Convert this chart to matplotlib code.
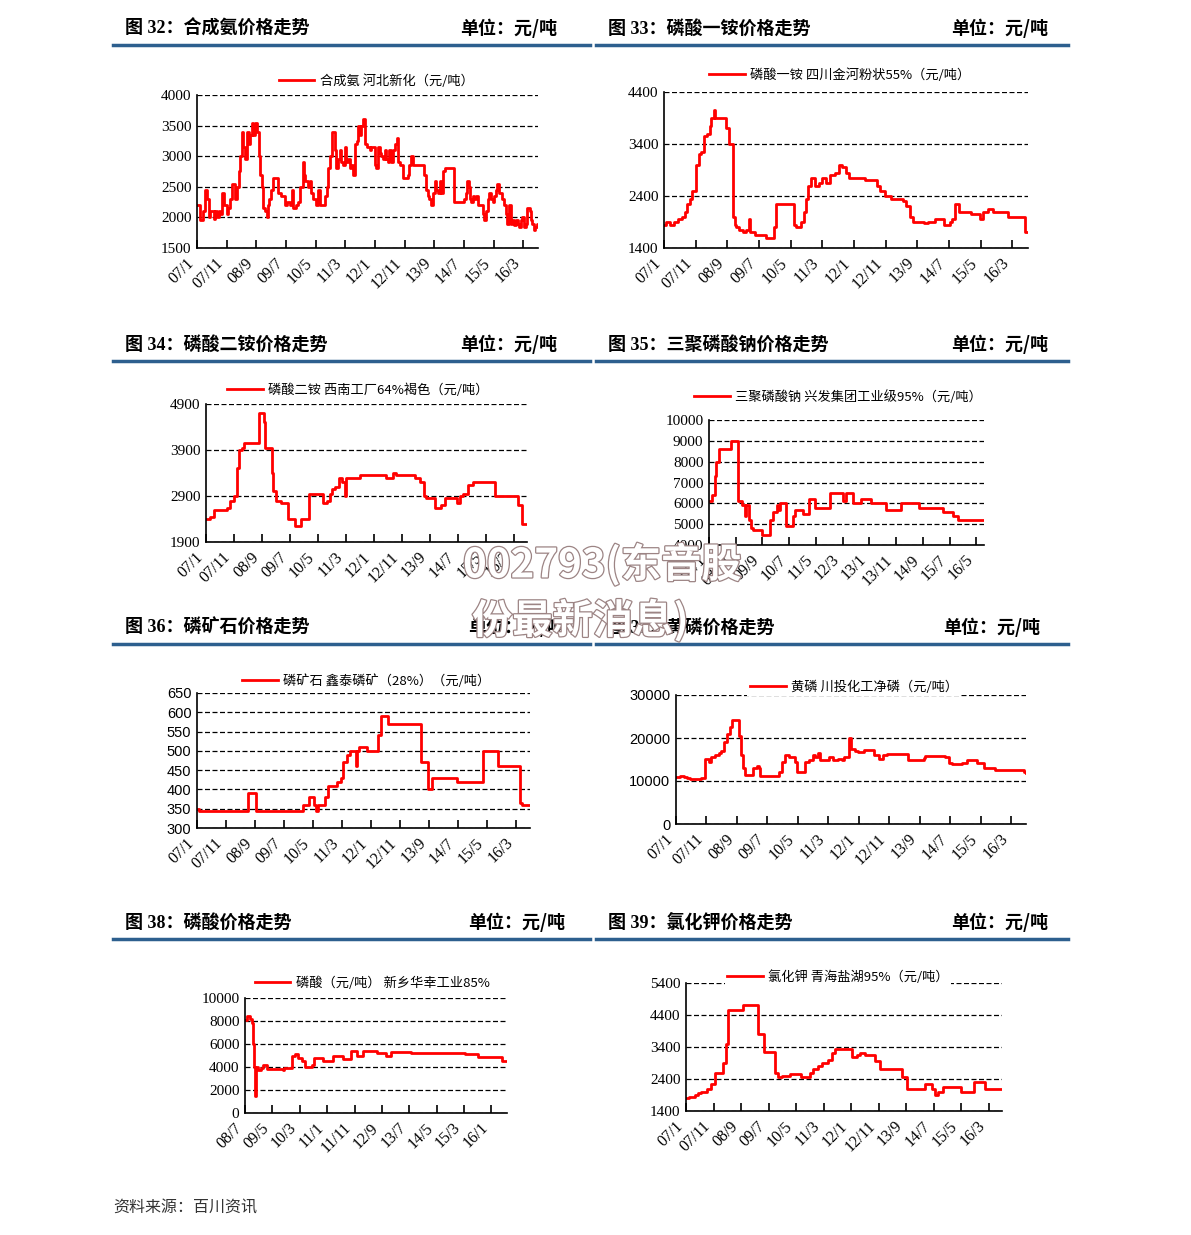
import matplotlib
matplotlib.use("Agg")
import matplotlib.pyplot as plt
import matplotlib.patheffects as pe
from matplotlib.lines import Line2D

plt.rcParams['font.family'] = ['Liberation Serif', 'Noto Sans CJK SC']
CJK = ['Noto Sans CJK SC', 'DejaVu Sans']

W, H = 1191, 1235
RED = '#FF0000'
BLUE = '#2D5F8E'

# ---- data: months since first tick, price in yuan/ton ----
# fig 32 ammonia, Hebei Xinhua (x from 2007/1)
nh3_month = [0, 1.1, 2.0, 2.8, 3.5, 3.9, 4.5, 5.6, 6.2, 6.7, 7.3, 7.8, 8.4, 9.2, 10.1, 10.6, 11.2, 11.8,
             12.9, 13.4, 14.0, 14.6, 15.1, 15.6, 16.2, 16.8, 17.4, 18.0, 18.5, 19.0, 19.6, 20.2, 20.9,
             21.3, 21.8, 22.4, 23.0, 23.5, 24.0, 24.4, 25.0, 25.5, 27.4, 28.2, 29.7, 30.5, 31.4, 31.9,
             32.5, 33.5, 34.2, 34.9, 35.6, 36.0, 36.4, 37.5, 38.0, 38.6, 39.2, 40.3, 40.9, 41.4, 43.2,
             43.7, 44.3, 44.8, 45.4, 46.5, 47.0, 47.6, 48.2, 48.7, 49.3, 49.8, 50.4, 51.0, 51.5, 52.0,
             52.6, 53.2, 53.8, 54.3, 54.9, 55.4, 56.0, 56.6, 57.2, 58.2, 58.6, 60.0, 60.5, 61.0, 61.6,
             62.2, 62.7, 63.3, 63.8, 64.4, 64.9, 65.5, 66.1, 66.8, 67.4, 67.7, 68.3, 69.4, 71.1, 71.6,
             72.2, 72.8, 76.7, 77.2, 77.8, 78.4, 78.9, 79.5, 80.1, 80.6, 81.2, 81.8, 82.3, 82.9, 83.6,
             86.8, 90.1, 90.6, 91.1, 91.6, 92.0, 92.4, 93.0, 93.5, 94.1, 94.6, 96.3, 96.8, 97.4, 98.0,
             98.5, 99.1, 99.7, 100.3, 100.8, 101.3, 102.0, 103.0, 103.6, 104.2, 104.7, 105.3, 105.8,
             106.4, 106.9, 107.5, 108.1, 108.7, 109.2, 109.7, 110.3, 110.8, 111.4, 112.2, 112.7, 113.1,
             113.6, 114.0, 114.5, 114.9]
nh3_price = [2200, 1950, 2100, 2450, 2300, 2000, 2100, 1980, 2100, 2000, 2100, 2050, 2400, 2200, 2050, 2150,
             2300, 2550, 2300, 2500, 2750, 3000, 3400, 3150, 2950, 3400, 3200, 3350, 3550, 3350, 3550,
             3400, 3000, 2700, 2500, 2150, 2100, 2000, 2200, 2300, 2450, 2650, 2400, 2350, 2200, 2250,
             2200, 2450, 2150, 2200, 2250, 2500, 2900, 2700, 2600, 2500, 2600, 2400, 2300, 2200, 2450,
             2200, 2350, 2500, 2800, 3000, 3400, 3100, 2800, 2950, 3100, 2900, 2850, 3150, 2900, 2950,
             2800, 2850, 2700, 3200, 3250, 3500, 3350, 3500, 3600, 3200, 3150, 3100, 3150, 2850, 2800,
             3150, 3050, 3000, 2950, 3100, 2950, 2900, 3100, 2900, 3100, 3200, 3300, 2900, 2850, 2650,
             2700, 2850, 3000, 2850, 2700, 2450, 2350, 2300, 2200, 2400, 2600, 2450, 2400, 2600, 2400,
             2750, 2800, 2250, 2300, 2400, 2600, 2500, 2300, 2250, 2350, 2300, 2350, 2200, 2050, 1950,
             2100, 2300, 2400, 2300, 2250, 2350, 2450, 2550, 2400, 2300, 2200, 2050, 1900, 2200, 1900,
             1950, 1880, 1950, 1900, 1850, 1950, 2000, 1850, 1900, 2150, 2100, 1950, 1900, 1800, 1850,
             1900, 1900]

# fig 33 MAP, Sichuan Jinhe 55% powder (x from 2007/1)
map_month = [0, 0.6, 1.8, 3.2, 4.4, 5.7, 6.5, 7.4, 8.2, 8.9, 10.0, 10.9, 11.8, 12.6, 13.6, 14.4, 14.9,
             15.8, 16.2, 19.7, 20.5, 21.8, 22.3, 22.8, 23.8, 24.9, 25.9, 26.8, 27.3, 28.6, 32.3, 34.9,
             35.5, 41.0, 41.8, 43.4, 44.2, 44.8, 45.5, 46.5, 47.6, 49.1, 50.0, 51.3, 52.3, 53.9, 55.3,
             56.2, 57.6, 58.6, 63.4, 67.4, 68.1, 69.7, 71.8, 75.5, 76.5, 77.6, 78.6, 82.3, 83.4, 85.5,
             88.4, 90.5, 91.1, 91.8, 93.1, 97.1, 99.7, 100.7, 102.3, 103.9, 108.6, 114.2, 115.0]
map_price = [1850, 1900, 1850, 1900, 1950, 2000, 2100, 2250, 2350, 2500, 3000, 3200, 3250, 3550, 3600,
             3750, 3900, 4050, 3900, 3700, 3400, 2000, 1850, 1800, 1750, 1700, 1750, 1950, 1700, 1650,
             1600, 1800, 2250, 1850, 1800, 1900, 2100, 2350, 2600, 2750, 2600, 2650, 2750, 2650, 2800,
             2850, 3000, 2950, 2850, 2750, 2700, 2600, 2500, 2400, 2350, 2300, 2200, 2000, 1900, 1880,
             1900, 1950, 1850, 1900, 1950, 2250, 2100, 2050, 1950, 2100, 2150, 2100, 2000, 1700, 1700]

# fig 34 DAP, southwest plants 64% brown (x from 2007/1)
dap_month = [0, 1.4, 3.0, 7.6, 8.5, 10.0, 11.0, 11.9, 12.8, 13.7, 18.8, 20.7, 21.1, 23.5, 24.0, 25.2,
             27.0, 29.4, 31.8, 33.8, 36.9, 41.9, 43.1, 44.3, 44.9, 46.0, 47.6, 48.5, 49.6, 50.2, 55.2,
             64.3, 66.7, 68.1, 74.6, 76.4, 77.9, 78.8, 81.8, 84.2, 85.4, 89.9, 90.7, 91.9, 93.7, 95.5,
             103.2, 111.7, 113.1, 114.8]
dap_price = [2400, 2450, 2600, 2650, 2800, 2900, 3500, 3900, 3950, 4050, 4700, 4500, 3950, 3400, 3000,
             2800, 2750, 2400, 2250, 2400, 2950, 2750, 2800, 2950, 3050, 3100, 3300, 3200, 2900, 3300,
             3350, 3300, 3400, 3350, 3300, 3200, 2900, 2850, 2650, 2700, 2850, 2750, 2900, 2950, 3150,
             3200, 2900, 2700, 2300, 2300]

# fig 35 STPP, Xingfa industrial 95% (x from 2008/1)
stpp_month = [0, 1.0, 2.2, 2.8, 3.7, 8.2, 11.0, 12.5, 13.4, 14.0, 14.9, 15.9, 16.6, 19.7, 22.8, 24.0,
              25.3, 25.9, 26.5, 28.8, 31.5, 32.1, 35.2, 37.5, 39.6, 45.2, 50.2, 51.4, 53.9, 57.0, 60.8,
              66.4, 72.0, 78.5, 87.5, 91.3, 93.2, 102.9]
stpp_price = [6100, 6400, 7300, 8000, 8600, 9000, 6100, 5900, 5400, 5900, 5200, 4800, 4700, 4500, 5200,
              5600, 5900, 5700, 6000, 4900, 5400, 5700, 5500, 6200, 5800, 6500, 6100, 6500, 6000, 6200,
              6000, 5700, 6000, 5800, 5600, 5400, 5200, 5200]

# fig 36 phosphate rock, Xintai 28% (x from 2007/1)
rock_month = [0, 0.7, 17.6, 20.5, 36.4, 38.5, 40.3, 41.0, 41.6, 44.1, 45.2, 48.3, 49.5, 50.4, 51.8,
              52.7, 54.8, 55.3, 55.9, 58.7, 62.3, 63.3, 65.9, 77.1, 79.5, 80.9, 89.7, 98.7, 103.7,
              111.2, 112.0, 114.8]
rock_price = [350, 345, 390, 345, 360, 380, 360, 345, 360, 380, 410, 420, 430, 470, 490, 500, 460, 500,
              510, 500, 540, 590, 570, 470, 400, 430, 420, 500, 460, 365, 360, 360]

# fig 37 yellow phosphorus, Chuantou (x from 2007/1)
p4_month = [0, 1.4, 2.5, 3.6, 4.7, 8.3, 9.6, 10.7, 11.6, 12.9, 14.0, 14.9, 15.6, 16.7, 17.6, 18.4, 20.6,
            21.3, 22.0, 22.8, 25.2, 26.5, 27.3, 27.7, 33.7, 34.8, 35.9, 37.0, 39.0, 39.8, 42.5, 43.5,
            45.0, 45.7, 46.6, 47.4, 49.0, 50.1, 51.7, 53.3, 54.4, 55.0, 56.9, 57.5, 58.6, 59.9, 61.6,
            64.9, 66.5, 67.8, 69.2, 76.0, 81.3, 81.8, 86.8, 88.4, 89.5, 90.6, 93.9, 95.5, 98.8, 101.0,
            104.8, 114.1, 114.9]
p4_price = [11000, 11200, 11000, 10600, 10400, 10800, 15200, 14500, 15500, 16000, 16500, 17000, 19000,
            21000, 22500, 24200, 20500, 16000, 13000, 11500, 13000, 13500, 13000, 11200, 12000, 14500,
            16000, 15500, 14500, 12200, 14500, 15000, 16000, 15500, 16500, 15000, 14800, 15500, 14800,
            15200, 15000, 15500, 20000, 17500, 17000, 16800, 17300, 16000, 15200, 16000, 16300, 15000,
            15400, 15700, 15900, 15500, 14200, 13900, 14300, 14800, 14300, 13000, 12500, 12000, 11900]

# fig 38 phosphoric acid, Xinxiang Huaxing 85% (x from 2008/7)
h3po4_month = [0, 0.9, 1.8, 2.4, 2.8, 3.3, 3.6, 4.0, 4.9, 5.8, 6.7, 7.9, 13.7, 14.2, 17.0, 18.2, 19.5,
               20.7, 21.9, 24.3, 25.2, 28.6, 32.0, 35.9, 38.6, 40.8, 43.2, 48.1, 51.5, 53.5, 60.8, 80.3,
               85.2, 94.0, 95.7]
h3po4_price = [8100, 8400, 8200, 7800, 6000, 4000, 1500, 4000, 3700, 3900, 4200, 3800, 3700, 3900, 5000,
               5100, 4800, 4500, 4000, 4200, 4800, 4500, 5000, 4700, 5400, 5000, 5400, 5200, 5000, 5300,
               5200, 5100, 4900, 4500, 4500]

# fig 39 potassium chloride, Qinghai Salt Lake 95% (x from 2007/1)
kcl_month = [0, 1.0, 3.4, 4.3, 5.6, 7.6, 9.2, 10.6, 13.4, 14.5, 15.2, 20.7, 26.1, 28.2, 32.2, 33.6, 34.8,
             37.8, 41.8, 45.1, 46.3, 47.9, 49.3, 51.5, 53.2, 54.2, 60.3, 62.0, 63.2, 65.0, 68.7, 70.5,
             78.6, 80.2, 86.8, 89.5, 90.4, 91.6, 93.5, 100.1, 104.7, 108.6, 114.9]
kcl_price = [1800, 1850, 1900, 1950, 2000, 2100, 2250, 2600, 2900, 3500, 4550, 4700, 3800, 3250, 2600,
             2450, 2500, 2550, 2450, 2600, 2700, 2800, 2900, 3000, 3200, 3350, 3100, 3150, 3200, 3150,
             2950, 2700, 2450, 2100, 2250, 2100, 1900, 2000, 2150, 2000, 2300, 2100, 2100]

labels_0701 = ['07/1', '07/11', '08/9', '09/7', '10/5', '11/3', '12/1', '12/11', '13/9', '14/7', '15/5', '16/3']
labels_0801 = ['08/1', '08/11', '09/9', '10/7', '11/5', '12/3', '13/1', '13/11', '14/9', '15/7', '16/5']
labels_0807 = ['08/7', '09/5', '10/3', '11/1', '11/11', '12/9', '13/7', '14/5', '15/3', '16/1']

fig = plt.figure(figsize=(W / 100, H / 100), dpi=100)


def px_axes(l, t, r, b):
    return fig.add_axes([l / W, 1 - b / H, (r - l) / W, (b - t) / H])


def header(x0, x1, y, title, unit_right):
    # both texts share one baseline
    base = 1 - (y + 6) / H
    fig.text(x0 / W, base, title, fontsize=13, weight='bold', ha='left', va='baseline',
             family=['Liberation Serif', 'Noto Sans CJK SC'])
    fig.text(unit_right / W, base, '单位：元/吨', fontsize=13, weight='bold', ha='right', va='baseline',
             family=CJK)
    fig.add_artist(Line2D([x0 / W - 12 / W, x1 / W], [1 - (y + 17) / H] * 2, color=BLUE, lw=2.5))


def panel(pos, months, prices, yticks, xlabels, xmax, legend_text, legend_xy, sans_y=False):
    ax = px_axes(*pos)
    line, = ax.plot(months, prices, drawstyle='steps-post', color=RED, lw=2)
    ax.set_xlim(0, xmax)
    ax.set_ylim(yticks[0], yticks[-1])
    ax.set_yticks(yticks)
    ax.set_xticks(range(0, 10 * len(xlabels), 10))
    ax.set_xticklabels(xlabels, rotation=45, ha='right', fontsize=11.5)
    for t in ax.get_yticklabels():
        t.set_fontsize(11)
        if sans_y:
            t.set_fontfamily('Liberation Sans')
            t.set_fontsize(10.5)
    ax.grid(axis='y', linestyle=(0, (4, 2)), color='black', lw=0.9)
    for s in ['top', 'right']:
        ax.spines[s].set_visible(False)
    for s in ['left', 'bottom']:
        ax.spines[s].set_linewidth(1.2)
    ax.tick_params(axis='y', length=0, pad=4)
    ax.tick_params(axis='x', direction='in', length=6, width=1.2, pad=5)
    leg = ax.legend([line], [legend_text], loc='center',
                    bbox_to_anchor=(legend_xy[0] / W, 1 - legend_xy[1] / H),
                    bbox_transform=fig.transFigure, prop={'family': CJK, 'size': 9.5},
                    handlelength=2.7, handletextpad=0.4, borderpad=0.2, frameon=True, fancybox=False)
    leg.get_frame().set_edgecolor('none')
    leg.get_frame().set_facecolor('white')
    leg.get_frame().set_alpha(1)
    return ax


# headers
header(125, 590, 28, '图 32：合成氨价格走势', 557)
header(608, 1068, 28, '图 33：磷酸一铵价格走势', 1048)
header(125, 590, 344, '图 34：磷酸二铵价格走势', 557)
header(608, 1068, 344, '图 35：三聚磷酸钠价格走势', 1048)
header(125, 590, 627, '图 36：磷矿石价格走势', 565)
header(608, 1068, 627, '图 37：黄磷价格走势', 1040)
header(125, 590, 922, '图 38：磷酸价格走势', 565)
header(608, 1068, 922, '图 39：氯化钾价格走势', 1048)

panel((197, 95, 538, 248), nh3_month, nh3_price, [1500, 2000, 2500, 3000, 3500, 4000],
      labels_0701, 115, '合成氨 河北新化（元/吨）', (376, 81))
panel((664, 92, 1028, 248), map_month, map_price, [1400, 2400, 3400, 4400],
      labels_0701, 115, '磷酸一铵 四川金河粉状55%（元/吨）', (840, 75))
panel((206, 404, 527, 542), dap_month, dap_price, [1900, 2900, 3900, 4900],
      labels_0701, 114.8, '磷酸二铵 西南工厂64%褐色（元/吨）', (358, 390))
panel((709, 420, 984, 545), stpp_month, stpp_price, [4000, 5000, 6000, 7000, 8000, 9000, 10000],
      labels_0801, 102.9, '三聚磷酸钠 兴发集团工业级95%（元/吨）', (838, 397))
panel((197, 693, 530, 828), rock_month, rock_price, [300, 350, 400, 450, 500, 550, 600, 650],
      labels_0701, 114.8, '磷矿石 鑫泰磷矿（28%）（元/吨）', (366, 681), sans_y=True)
panel((676, 695, 1026, 824), p4_month, p4_price, [0, 10000, 20000, 30000],
      labels_0701, 114.9, '黄磷 川投化工净磷（元/吨）', (854, 687), sans_y=True)
panel((245, 998, 507, 1113), h3po4_month, h3po4_price, [0, 2000, 4000, 6000, 8000, 10000],
      labels_0807, 95.7, '磷酸（元/吨） 新乡华幸工业85%', (372, 983))
panel((686, 983, 1002, 1111), kcl_month, kcl_price, [1400, 2400, 3400, 4400, 5400],
      labels_0701, 114.9, '氯化钾 青海盐湖95%（元/吨）', (838, 977))

# watermark: white glyphs with a thin grey outline
wm = dict(fontsize=29, color='white', weight='bold', family=CJK, ha='left', va='center',
          path_effects=[pe.withStroke(linewidth=1.8, foreground='#9c8484')])
fig.text(463 / W, 1 - 565 / H, '002793(东音股', **wm)
fig.text(472 / W, 1 - 621 / H, '份最新消息)', **wm)

fig.text(113 / W, 1 - 1208 / H, '资料来源：百川资讯', fontsize=11.5, style='italic', color='#333333',
         family=CJK, ha='left', va='center')

fig.savefig('out.png', dpi=100)
